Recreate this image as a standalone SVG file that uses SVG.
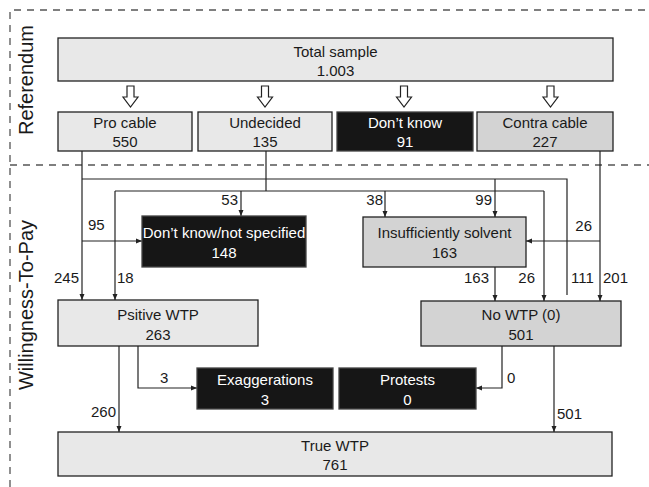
<svg xmlns="http://www.w3.org/2000/svg" xmlns:xlink="http://www.w3.org/1999/xlink" width="649" height="487" viewBox="0 0 649 487">
<style>
  .bg { fill: #ffffff; }
  .light { fill: #e8e8e8; stroke: #222; stroke-width: 1.3; }
  .mid { fill: #d3d3d3; stroke: #222; stroke-width: 1.3; }
  .dark { fill: #161616; stroke: #444; stroke-width: 1.3; }
  text { font-family: "Liberation Sans", Arial, sans-serif; font-size: 15px; fill: #1a1a1a; }
  .c { text-anchor: middle; }
  .e { text-anchor: end; }
  .w { fill: #ffffff; }
  .side { font-size: 20px; text-anchor: middle; }
  .dash { fill: none; stroke: #555; stroke-width: 1.3; stroke-dasharray: 7 6; }
  .ln { fill: none; stroke: #222; stroke-width: 1.2; }
  .arr { marker-end: url(#ah); }
  .hollow { fill: #ffffff; stroke: #222; stroke-width: 1.2; stroke-linejoin: miter; }
</style>
<defs>
  <marker id="ah" markerUnits="userSpaceOnUse" markerWidth="7" markerHeight="6" refX="6" refY="3" orient="auto">
    <path d="M0,0.5 L6,3 L0,5.5 Z" fill="#222"/>
  </marker>
  <path id="ha" d="M-3.5,86 H3.5 V97 H7.5 L0,107 L-7.5,97 H-3.5 Z"/>
</defs>
<rect class="bg" x="0" y="0" width="649" height="487"/>

<g id="frame">
  <path class="dash" d="M10,487 V10 H649"/>
  <path class="dash" d="M10,165 H649"/>
  <text class="side" transform="translate(33,80) rotate(-90)">Referendum</text>
  <text class="side" transform="translate(33,305) rotate(-90)">Willingness-To-Pay</text>
</g>

<g id="hollow-arrows" class="hollow">
  <use xlink:href="#ha" x="130.5" y="0"/>
  <use xlink:href="#ha" x="265" y="0"/>
  <use xlink:href="#ha" x="404" y="0"/>
  <use xlink:href="#ha" x="550.5" y="0"/>
</g>

<g id="connectors">
  <path class="ln arr" d="M82,151 V300"/>
  <path class="ln" d="M82,179 H567 V295"/>
  <path class="ln arr" d="M82,241 H142"/>
  <path class="ln arr" d="M495,179 V217"/>
  <path class="ln" d="M266,151 V191"/>
  <path class="ln" d="M115,191 H544"/>
  <path class="ln arr" d="M241,191 V216"/>
  <path class="ln arr" d="M385,191 V217"/>
  <path class="ln arr" d="M115,191 V300"/>
  <path class="ln arr" d="M544,191 V301"/>
  <path class="ln arr" d="M600,151 V301"/>
  <path class="ln arr" d="M600,241 H526"/>
  <path class="ln arr" d="M495,267 V301"/>
  <path class="ln arr" d="M119,346 V432"/>
  <path class="ln arr" d="M138,346 V388 H197"/>
  <path class="ln arr" d="M502,346 V388 H476"/>
  <path class="ln arr" d="M554,346 V432"/>
  <text class="e" x="238" y="205">53</text>
  <text class="e" x="383" y="205">38</text>
  <text class="e" x="492" y="205">99</text>
  <text x="88" y="230">95</text>
  <text class="e" x="592" y="231">26</text>
  <text class="e" x="79" y="283">245</text>
  <text x="117" y="283">18</text>
  <text class="e" x="489" y="283">163</text>
  <text class="e" x="535" y="283">26</text>
  <text x="571" y="283">111</text>
  <text x="603" y="283">201</text>
  <text class="e" x="116" y="417">260</text>
  <text x="160" y="383">3</text>
  <text x="507" y="383">0</text>
  <text x="557" y="419">501</text>
</g>

<g id="total">
  <rect class="light" x="58" y="38" width="555" height="43"/>
  <text class="c" x="335.5" y="57">Total sample</text>
  <text class="c" x="335.5" y="76">1.003</text>
</g>
<g id="pro">
  <rect class="light" x="58" y="112" width="134" height="39"/>
  <text class="c" x="125" y="128">Pro cable</text>
  <text class="c" x="125" y="147">550</text>
</g>
<g id="undecided">
  <rect class="light" x="198" y="112" width="134" height="39"/>
  <text class="c" x="265" y="128">Undecided</text>
  <text class="c" x="265" y="147">135</text>
</g>
<g id="dontknow">
  <rect class="dark" x="337" y="112" width="136" height="39"/>
  <text class="c w" x="405" y="128">Don’t know</text>
  <text class="c w" x="405" y="147">91</text>
</g>
<g id="contra">
  <rect class="mid" x="477" y="112" width="136" height="39"/>
  <text class="c" x="545" y="128">Contra cable</text>
  <text class="c" x="545" y="147">227</text>
</g>
<g id="dknotspec">
  <rect class="dark" x="142" y="216" width="164" height="51"/>
  <text class="c w" x="224" y="238">Don’t know/not specified</text>
  <text class="c w" x="224" y="258">148</text>
</g>
<g id="insolvent">
  <rect class="mid" x="363" y="217" width="163" height="50"/>
  <text class="c" x="444.5" y="238">Insufficiently solvent</text>
  <text class="c" x="444.5" y="258">163</text>
</g>
<g id="positive">
  <rect class="light" x="58" y="300" width="200" height="46"/>
  <text class="c" x="158" y="320">Psitive WTP</text>
  <text class="c" x="158" y="340">263</text>
</g>
<g id="nowtp">
  <rect class="mid" x="421" y="301" width="200" height="45"/>
  <text class="c" x="521" y="320">No WTP (0)</text>
  <text class="c" x="521" y="340">501</text>
</g>
<g id="exagg">
  <rect class="dark" x="197" y="368" width="136" height="41"/>
  <text class="c w" x="265" y="385">Exaggerations</text>
  <text class="c w" x="265" y="405">3</text>
</g>
<g id="protests">
  <rect class="dark" x="339" y="368" width="137" height="41"/>
  <text class="c w" x="407.5" y="385">Protests</text>
  <text class="c w" x="407.5" y="405">0</text>
</g>
<g id="truewtp">
  <rect class="light" x="58" y="432" width="554" height="44"/>
  <text class="c" x="335" y="451">True WTP</text>
  <text class="c" x="335" y="470">761</text>
</g>
</svg>
